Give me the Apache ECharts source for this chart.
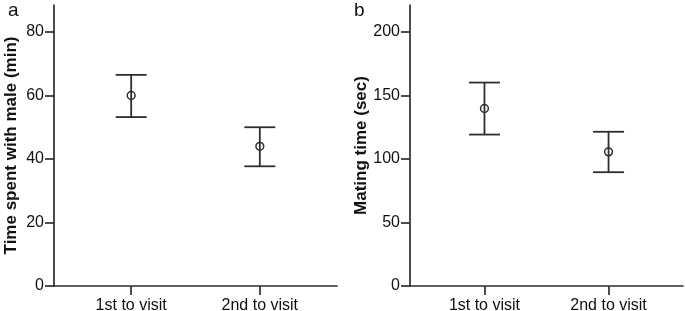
<!DOCTYPE html>
<html><head><meta charset="utf-8">
<script src="https://cdn.jsdelivr.net/npm/echarts@6/dist/echarts.min.js"></script>
<style>html,body{margin:0;padding:0;background:#fff}#c{width:685px;height:311px}</style>
</head><body><div id="c"></div>
<script>
// Data
const categories = ['1st to visit', '2nd to visit'];
const timeMean = [60, 44];
const timeLow = [53.2, 37.7];
const timeHigh = [66.5, 50];
const matingMean = [139.6, 105.5];
const matingLow = [119.1, 89.5];
const matingHigh = [160, 121.3];
const timeTicks = [0, 20, 40, 60, 80];
const matingTicks = [0, 50, 100, 150, 200];

const FONT = 'Liberation Sans, Arial, sans-serif';
const INK = '#2e2e2e';
const TEXT = '#111';

function buildData(mean, low, high) {
  return categories.map((c, i) => [i + 1, mean[i], low[i], high[i]]);
}
function renderItem(params, api) {
  const x = api.value(0);
  const pM = api.coord([x, api.value(1)]);
  const pL = api.coord([x, api.value(2)]);
  const pH = api.coord([x, api.value(3)]);
  const hw = 15.5;
  const st = {stroke: INK, lineWidth: 1.8, fill: null};
  return {type: 'group', children: [
    {type: 'line', shape: {x1: pL[0], y1: pL[1], x2: pH[0], y2: pH[1]}, style: st},
    {type: 'line', shape: {x1: pL[0] - hw, y1: pL[1], x2: pL[0] + hw, y2: pL[1]}, style: st},
    {type: 'line', shape: {x1: pH[0] - hw, y1: pH[1], x2: pH[0] + hw, y2: pH[1]}, style: st},
    {type: 'circle', shape: {cx: pM[0], cy: pM[1], r: 3.9}, style: {stroke: INK, lineWidth: 1.5, fill: null}}
  ]};
}
function xAxis(idx) {
  return {
    type: 'value', gridIndex: idx, min: 0.4, max: 2.6,
    axisLine: {show: true, lineStyle: {color: INK, width: 1.7}},
    axisTick: {show: true, length: 9, customValues: [1, 2], lineStyle: {color: INK, width: 1.7}},
    axisLabel: {customValues: [1, 2], formatter: v => categories[Math.round(v) - 1] || '',
      color: TEXT, fontSize: 16, fontFamily: FONT, margin: 12},
    splitLine: {show: false}
  };
}
function yAxis(idx, max, ticks, name, gap) {
  return {
    type: 'value', gridIndex: idx, min: 0, max: max,
    name: name, nameLocation: 'middle', nameGap: gap,
    nameTextStyle: {fontSize: 17, fontWeight: 'bold', color: TEXT, fontFamily: FONT},
    axisLine: {show: true, lineStyle: {color: INK, width: 1.7}},
    axisTick: {show: true, length: 9, customValues: ticks, lineStyle: {color: INK, width: 1.7}},
    axisLabel: {customValues: ticks, color: TEXT, fontSize: 16, fontFamily: FONT, margin: 10},
    splitLine: {show: false}
  };
}
const chart = echarts.init(document.getElementById('c'), null, {renderer: 'canvas'});
chart.setOption({
  backgroundColor: '#fff',
  animation: false,
  title: [
    {text: 'a', left: 3, top: -4, textStyle: {fontSize: 19, fontWeight: 'normal', color: TEXT, fontFamily: FONT}},
    {text: 'b', left: 349, top: -4, textStyle: {fontSize: 19, fontWeight: 'normal', color: TEXT, fontFamily: FONT}}
  ],
  grid: [
    {left: 54, right: 348, top: 5, bottom: 25, containLabel: false, outerBoundsMode: 'none'},
    {left: 410, right: 2, top: 5, bottom: 25, containLabel: false, outerBoundsMode: 'none'}
  ],
  xAxis: [xAxis(0), xAxis(1)],
  yAxis: [
    yAxis(0, 88.5, timeTicks, 'Time spent with male (min)', 34),
    yAxis(1, 221, matingTicks, 'Mating time (sec)', 40)
  ],
  series: [
    {type: 'custom', xAxisIndex: 0, yAxisIndex: 0, renderItem, data: buildData(timeMean, timeLow, timeHigh)},
    {type: 'custom', xAxisIndex: 1, yAxisIndex: 1, renderItem, data: buildData(matingMean, matingLow, matingHigh)}
  ]
});
</script></body></html>
